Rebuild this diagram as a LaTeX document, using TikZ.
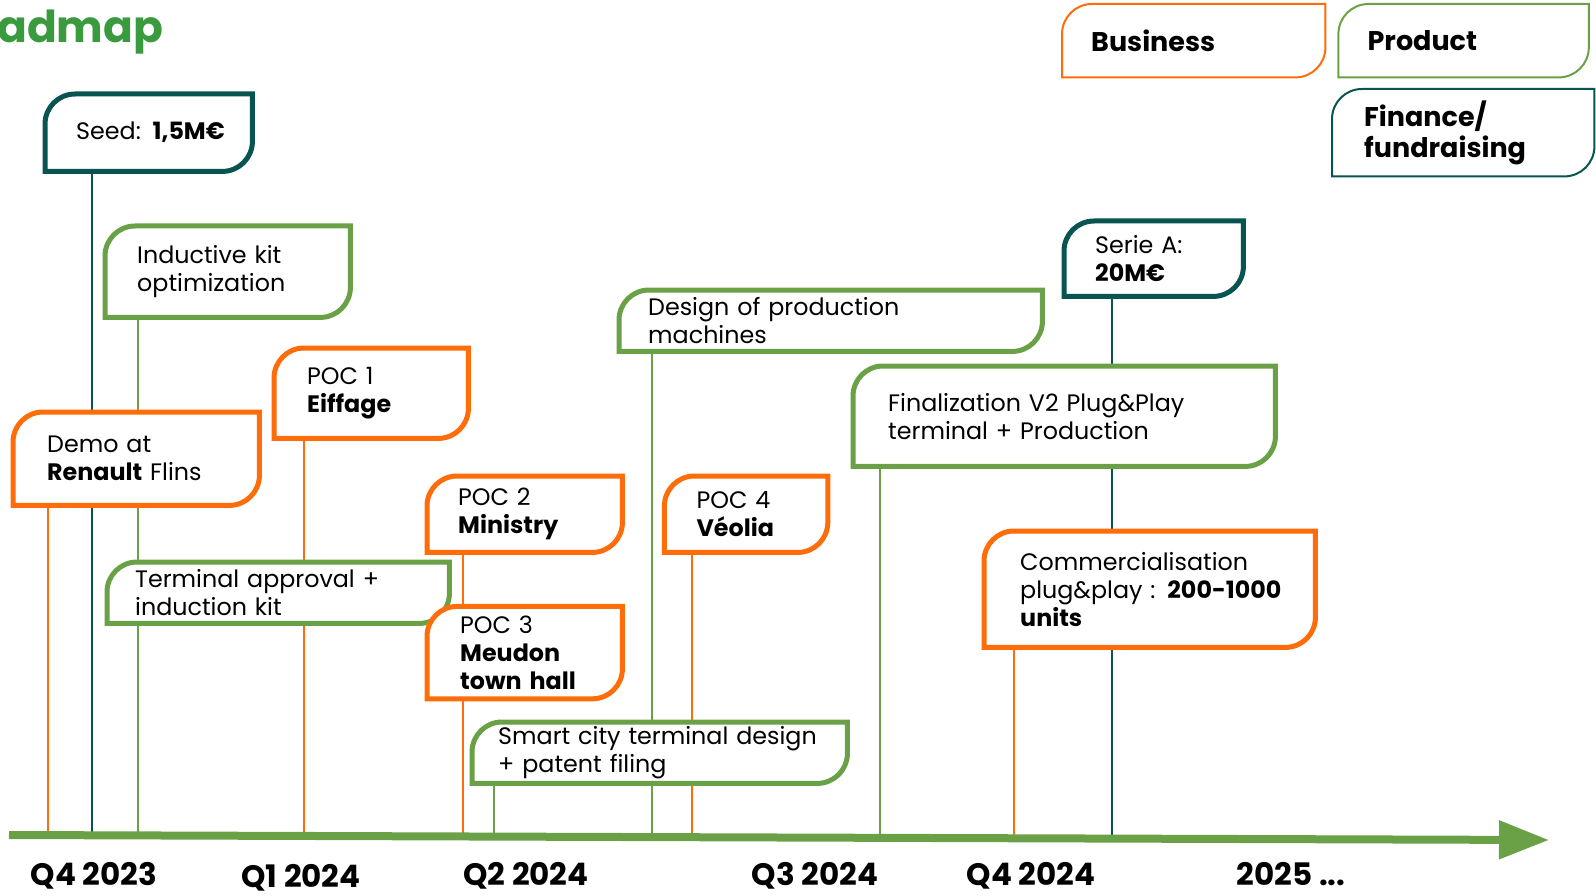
\documentclass[tikz,border=0pt]{standalone}
\usepackage{fontspec}
\setmainfont{Poppins}
\usetikzlibrary{arrows.meta}
\usetikzlibrary{positioning}

\definecolor{rmorange}{RGB}{255,108,10}
\definecolor{rmgreen}{RGB}{106,161,71}
\definecolor{rmteal}{RGB}{8,84,80}
\definecolor{rmtitle}{RGB}{58,154,62}

\pgfdeclarelayer{links}
\pgfdeclarelayer{frames}
\pgfsetlayers{links,frames,main}

\tikzset{
  tag/.style={anchor=north west, align=left, inner ysep=0pt, font=\fontsize{23.8}{28}\selectfont},
  key/.style={tag, font=\fontsize{27}{31}\selectfont\bfseries},
  quarter/.style={anchor=base, font=\fontsize{31}{31}\selectfont\bfseries},
  link/.style={line width=2pt}
}

\begin{document}
\begin{tikzpicture}[x=1pt, y=-1pt]

\useasboundingbox (0,0) rectangle (1596,896);

\node[anchor=base west, inner sep=0pt, text=rmtitle, font=\fontsize{44}{44}\selectfont\bfseries] (title) at (-3,43) {admap};

\node[key, text width=205pt, inner xsep=29pt, minimum height=73pt] (business) at (1062,4) {Business};
\node[key, text width=192pt, inner xsep=29pt, minimum height=73pt, right=13pt of business] (product) {Product};
\node[key, text width=198pt, inner xsep=32pt, minimum height=87pt] (finance) at (1332,89) {Finance/\\fundraising};

\node[tag, text width=145pt, inner xsep=31pt, minimum height=77pt] (seed) at (45,94) {\mbox{Seed: \textbf{1,5M€}}};
\node[tag, text width=181pt, inner xsep=32pt, minimum height=91pt] (induct) at (105,226) {Inductive kit\\optimization};
\node[tag, text width=178pt, inner xsep=34pt, minimum height=93pt] (demo) at (13,412) {Demo at\\\textbf{Renault} Flins};
\node[tag, text width=128pt, inner xsep=33pt, minimum height=90pt] (poc1) at (274,348) {POC 1\\\textbf{Eiffage}};
\node[tag, text width=286pt, inner xsep=28pt, minimum height=61pt] (term) at (107,562) {Terminal approval +\\induction kit};
\node[tag, text width=133pt, inner xsep=31pt, minimum height=76pt] (poc2) at (427,476) {POC 2\\\textbf{Ministry}};
\node[tag, text width=129pt, inner xsep=33pt, minimum height=92pt, below=54pt of poc2] (poc3) {POC 3\\\textbf{Meudon}\\\textbf{town hall}};
\node[tag, text width=99pt, inner xsep=32pt, minimum height=76pt, right=42pt of poc2] (poc4) {POC 4\\\textbf{Véolia}};
\node[tag, text width=323pt, inner xsep=26pt, minimum height=61pt] (smart) at (472,722) {\mbox{Smart city terminal design}\\+ patent filing};
\node[tag, text width=365pt, inner xsep=29pt, minimum height=61pt] (design) at (619,290) {Design of production\\machines};
\node[tag, text width=117pt, inner xsep=31pt, minimum height=75pt] (serie) at (1064,221) {Serie A:\\\textbf{20M€}};
\node[tag, text width=352pt, inner xsep=35pt, minimum height=100pt] (final) at (853,366) {Finalization V2 Plug\&Play\\terminal + Production};
\node[tag, text width=259pt, inner xsep=36pt, minimum height=116pt] (comm) at (984,531) {Commercialisation\\\mbox{plug\&play : \textbf{200-1000}}\\\textbf{units}};

\node[quarter] (q1) at (94,885) {Q4 2023};
\node[quarter] (q2) at (301,887) {Q1 2024};
\node[quarter] (q3) at (526,885) {Q2 2024};
\node[quarter] (q4) at (815,885) {Q3 2024};
\node[quarter] (q5) at (1031,885) {Q4 2024};
\node[quarter] (q6) at (1291,885) {2025 ...};

\coordinate (axs) at (9,835);
\coordinate (axe) at (1549,840);
\draw[rmgreen, line width=8pt, -{Triangle[length=50pt, width=37pt]}] (axs) -- (axe);

\coordinate (t1) at (48,837);
\coordinate (t2) at (92,837);
\coordinate (t3) at (138,837);
\coordinate (t4) at (304,837);
\coordinate (t5) at (463,837);
\coordinate (t6) at (494,837);
\coordinate (t7) at (652,837);
\coordinate (t8) at (692,837);
\coordinate (t9) at (880,837);
\coordinate (t10) at (1014,837);
\coordinate (t11) at (1112,837);

\begin{pgfonlayer}{links}
\draw[link, rmorange] (t1) -- (t1 |- demo.south);
\draw[link, rmteal] (t2) -- (t2 |- seed.south);
\draw[link, rmgreen] (t3) -- (t3 |- induct.south);
\draw[link, rmorange] (t4) -- (t4 |- poc1.south);
\draw[link, rmorange] (t5) -- (t5 |- poc2.south);
\draw[link, rmgreen] (t6) -- (t6 |- smart.south);
\draw[link, rmgreen] (t7) -- (t7 |- design.south);
\draw[link, rmorange] (t8) -- (t8 |- poc4.south);
\draw[link, rmgreen] (t9) -- (t9 |- final.south);
\draw[link, rmorange] (t10) -- (t10 |- comm.south);
\draw[link, rmteal] (t11) -- (t11 |- serie.south);
\end{pgfonlayer}

\begin{pgfonlayer}{frames}
\foreach \n/\c/\w in {business/rmorange/2pt, product/rmgreen/2pt, finance/rmteal/2pt,
    seed/rmteal/5pt, induct/rmgreen/5pt, demo/rmorange/5pt, poc1/rmorange/5pt,
    term/rmgreen/5pt, poc2/rmorange/5pt, poc3/rmorange/5pt, poc4/rmorange/5pt,
    smart/rmgreen/5pt, design/rmgreen/5pt, serie/rmteal/5pt, final/rmgreen/5pt,
    comm/rmorange/5pt}
  \draw[\c, line width=\w, fill=white]
    (\n.south west) -- ([yshift=-30pt]\n.north west)
    arc[start angle=180, end angle=90, radius=30pt]
    -- (\n.north east) -- ([yshift=30pt]\n.south east)
    arc[start angle=0, end angle=-90, radius=30pt] -- cycle;
\end{pgfonlayer}

\end{tikzpicture}
\end{document}
